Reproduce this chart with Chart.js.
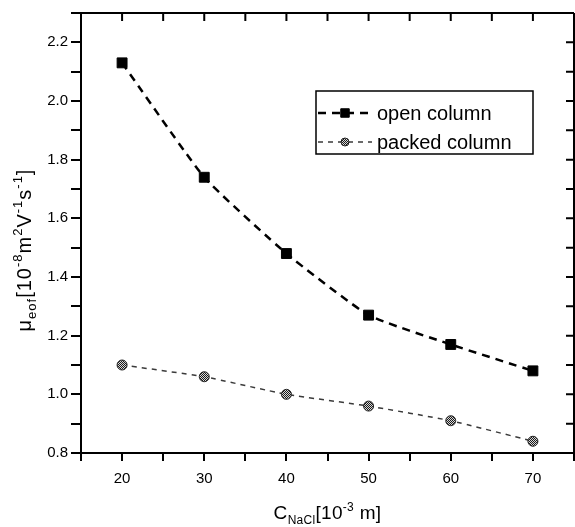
<!DOCTYPE html>
<html>
<head>
<meta charset="utf-8">
<script src="https://cdn.jsdelivr.net/npm/chart.js@4"></script>
<style>
  html, body { margin: 0; padding: 0; background: #fff; overflow: hidden; }
  #wrap { width: 575px; height: 527px; }
  canvas { display: block; }
</style>
</head>
<body>
<div id="wrap"><canvas id="chart1" width="575" height="527"></canvas></div>
<script>
// data
const concentration = [20, 30, 40, 50, 60, 70];          // C NaCl, 10^-3 m
const openColumn    = [2.13, 1.74, 1.48, 1.27, 1.17, 1.08];
const packedColumn  = [1.10, 1.06, 1.00, 0.96, 0.91, 0.84];
const seriesNames   = ['open column', 'packed column'];
const xTickLabels   = [20, 30, 40, 50, 60, 70];
const yTickLabels   = [0.8, 1.0, 1.2, 1.4, 1.6, 1.8, 2.0, 2.2];

const FONT = "'Liberation Sans', Arial, sans-serif";

// small hatched fill for the circle markers
function hatch() {
    const c = document.createElement('canvas');
    c.width = 2; c.height = 2;
    const g = c.getContext('2d');
    g.fillStyle = '#d8d8d8';
    g.fillRect(0, 0, 2, 2);
    g.fillStyle = '#1a1a1a';
    g.fillRect(0, 0, 1, 1);
    g.fillRect(1, 1, 1, 1);
    return document.getElementById('chart1').getContext('2d').createPattern(c, 'repeat');
}

function toPoints(xs, ys) {
    return xs.map((x, i) => ({x: x, y: ys[i]}));
}

// text with sub/superscripts, centered at (cx, baseline cy)
function richText(ctx, parts, cx, cy, spacing) {
    ctx.letterSpacing = (spacing || 0) + 'px';
    let total = 0;
    parts.forEach(p => {
        ctx.font = p.size + 'px ' + FONT;
        p.w = ctx.measureText(p.t).width;
        total += p.w;
    });
    let x = cx - total / 2;
    ctx.textAlign = 'left';
    ctx.textBaseline = 'alphabetic';
    parts.forEach(p => {
        ctx.font = p.size + 'px ' + FONT;
        ctx.fillText(p.t, x, cy + (p.dy || 0));
        x += p.w;
    });
    ctx.letterSpacing = '0px';
}

const framePlugin = {
    id: 'frame',
    afterDraw(chart) {
        const ctx = chart.ctx;
        const a = chart.chartArea;
        const xs = chart.scales.x, ys = chart.scales.y;
        ctx.save();
        ctx.strokeStyle = '#000';
        ctx.lineWidth = 2;
        // top and right lines
        ctx.beginPath();
        ctx.moveTo(a.left, a.top); ctx.lineTo(a.right, a.top);
        ctx.moveTo(a.right, a.top); ctx.lineTo(a.right, a.bottom);
        ctx.stroke();
        // mirrored ticks, pointing inwards
        ctx.beginPath();
        xs.ticks.forEach(t => {
            const px = xs.getPixelForValue(t.value);
            ctx.moveTo(px, a.top); ctx.lineTo(px, a.top + 8);
        });
        ys.ticks.forEach(t => {
            const py = ys.getPixelForValue(t.value);
            ctx.moveTo(a.right, py); ctx.lineTo(a.right - 8, py);
        });
        ctx.stroke();

        // axis titles
        ctx.fillStyle = '#000';
        richText(ctx, [
            {t: 'C', size: 19},
            {t: 'NaCl', size: 12, dy: 5},
            {t: '[10', size: 19},
            {t: '-3', size: 12, dy: -8},
            {t: ' m]', size: 19}
        ], (a.left + a.right) / 2, 519, 0.3);

        ctx.save();
        ctx.translate(31, 250);
        ctx.rotate(-Math.PI / 2);
        richText(ctx, [
            {t: 'μ', size: 20},
            {t: 'eof', size: 13, dy: 5},
            {t: '[10', size: 20},
            {t: '-8', size: 13, dy: -9},
            {t: 'm', size: 20},
            {t: '2', size: 13, dy: -9},
            {t: 'V', size: 20},
            {t: '-1', size: 13, dy: -9},
            {t: 's', size: 20},
            {t: '-1', size: 13, dy: -9},
            {t: ']', size: 20}
        ], 0, 0, 1);
        ctx.restore();

        // legend box
        const bx = 316, by = 91, bw = 217, bh = 63;
        ctx.lineWidth = 1.5;
        ctx.strokeRect(bx, by, bw, bh);
        chart.data.datasets.forEach((ds, i) => {
            const ly = by + 22 + i * 29;
            ctx.save();
            ctx.strokeStyle = ds.borderColor;
            ctx.lineWidth = ds.borderWidth;
            ctx.setLineDash(ds.borderDash);
            ctx.beginPath();
            ctx.moveTo(bx + 2, ly); ctx.lineTo(bx + 56, ly);
            ctx.stroke();
            ctx.restore();
            ctx.save();
            ctx.fillStyle = ds.pointBackgroundColor;
            ctx.strokeStyle = ds.pointBorderColor;
            ctx.lineWidth = ds.pointBorderWidth;
            Chart.helpers.drawPoint(ctx, {pointStyle: ds.pointStyle, radius: ds.pointRadius - 1, borderWidth: ds.pointBorderWidth}, bx + 29, ly);
            ctx.restore();
            ctx.fillStyle = '#000';
            ctx.font = '20px ' + FONT;
            ctx.textAlign = 'left';
            ctx.textBaseline = 'middle';
            ctx.fillText(ds.label, bx + 61, ly + 1);
        });
        ctx.restore();
    }
};

new Chart('chart1', {
    type: 'line',
    data: {
        datasets: [
            {
                label: seriesNames[0],
                data: toPoints(concentration, openColumn),
                borderColor: '#000',
                borderWidth: 2.5,
                borderDash: [8, 6],
                tension: 0.15,
                pointStyle: 'rect',
                pointRadius: 7,
                pointBackgroundColor: '#000',
                pointBorderColor: '#000',
                pointBorderWidth: 1
            },
            {
                label: seriesNames[1],
                data: toPoints(concentration, packedColumn),
                borderColor: '#3a3a3a',
                borderWidth: 1.5,
                borderDash: [5, 5],
                tension: 0.15,
                pointStyle: 'circle',
                pointRadius: 5,
                pointBackgroundColor: hatch(),
                pointBorderColor: '#222',
                pointBorderWidth: 1
            }
        ]
    },
    options: {
        responsive: false,
        animation: false,
        layout: { autoPadding: false, padding: { top: 13, right: 1, left: 0, bottom: 0 } },
        plugins: {
            legend: { display: false },
            tooltip: { enabled: false }
        },
        scales: {
            x: {
                type: 'linear',
                min: 15,
                max: 75,
                afterFit(scale) {
                    scale.height = 74;
                    scale.paddingLeft = 0;
                    scale.paddingRight = 0;
                },
                border: { display: true, color: '#000', width: 2 },
                grid: { drawOnChartArea: false, drawTicks: true, tickLength: 8, color: '#000', lineWidth: 2 },
                ticks: {
                    stepSize: 5,
                    autoSkip: false,
                    maxRotation: 0,
                    padding: 9,
                    color: '#000',
                    font: { family: FONT, size: 15 },
                    callback: v => xTickLabels.includes(v) ? String(v) : ''
                }
            },
            y: {
                type: 'linear',
                min: 0.8,
                max: 2.3,
                afterFit(scale) {
                    scale.width = 81;
                    scale.paddingTop = 0;
                    scale.paddingBottom = 0;
                },
                border: { display: true, color: '#000', width: 2 },
                grid: { drawOnChartArea: false, drawTicks: true, tickLength: 10, color: '#000', lineWidth: 2 },
                ticks: {
                    stepSize: 0.1,
                    autoSkip: false,
                    padding: 3,
                    color: '#000',
                    font: { family: FONT, size: 15 },
                    callback: v => {
                        const hit = yTickLabels.find(l => Math.abs(l - v) < 1e-6);
                        return hit !== undefined ? hit.toFixed(1) : '';
                    }
                }
            }
        }
    },
    plugins: [framePlugin]
});
</script>
</body>
</html>
